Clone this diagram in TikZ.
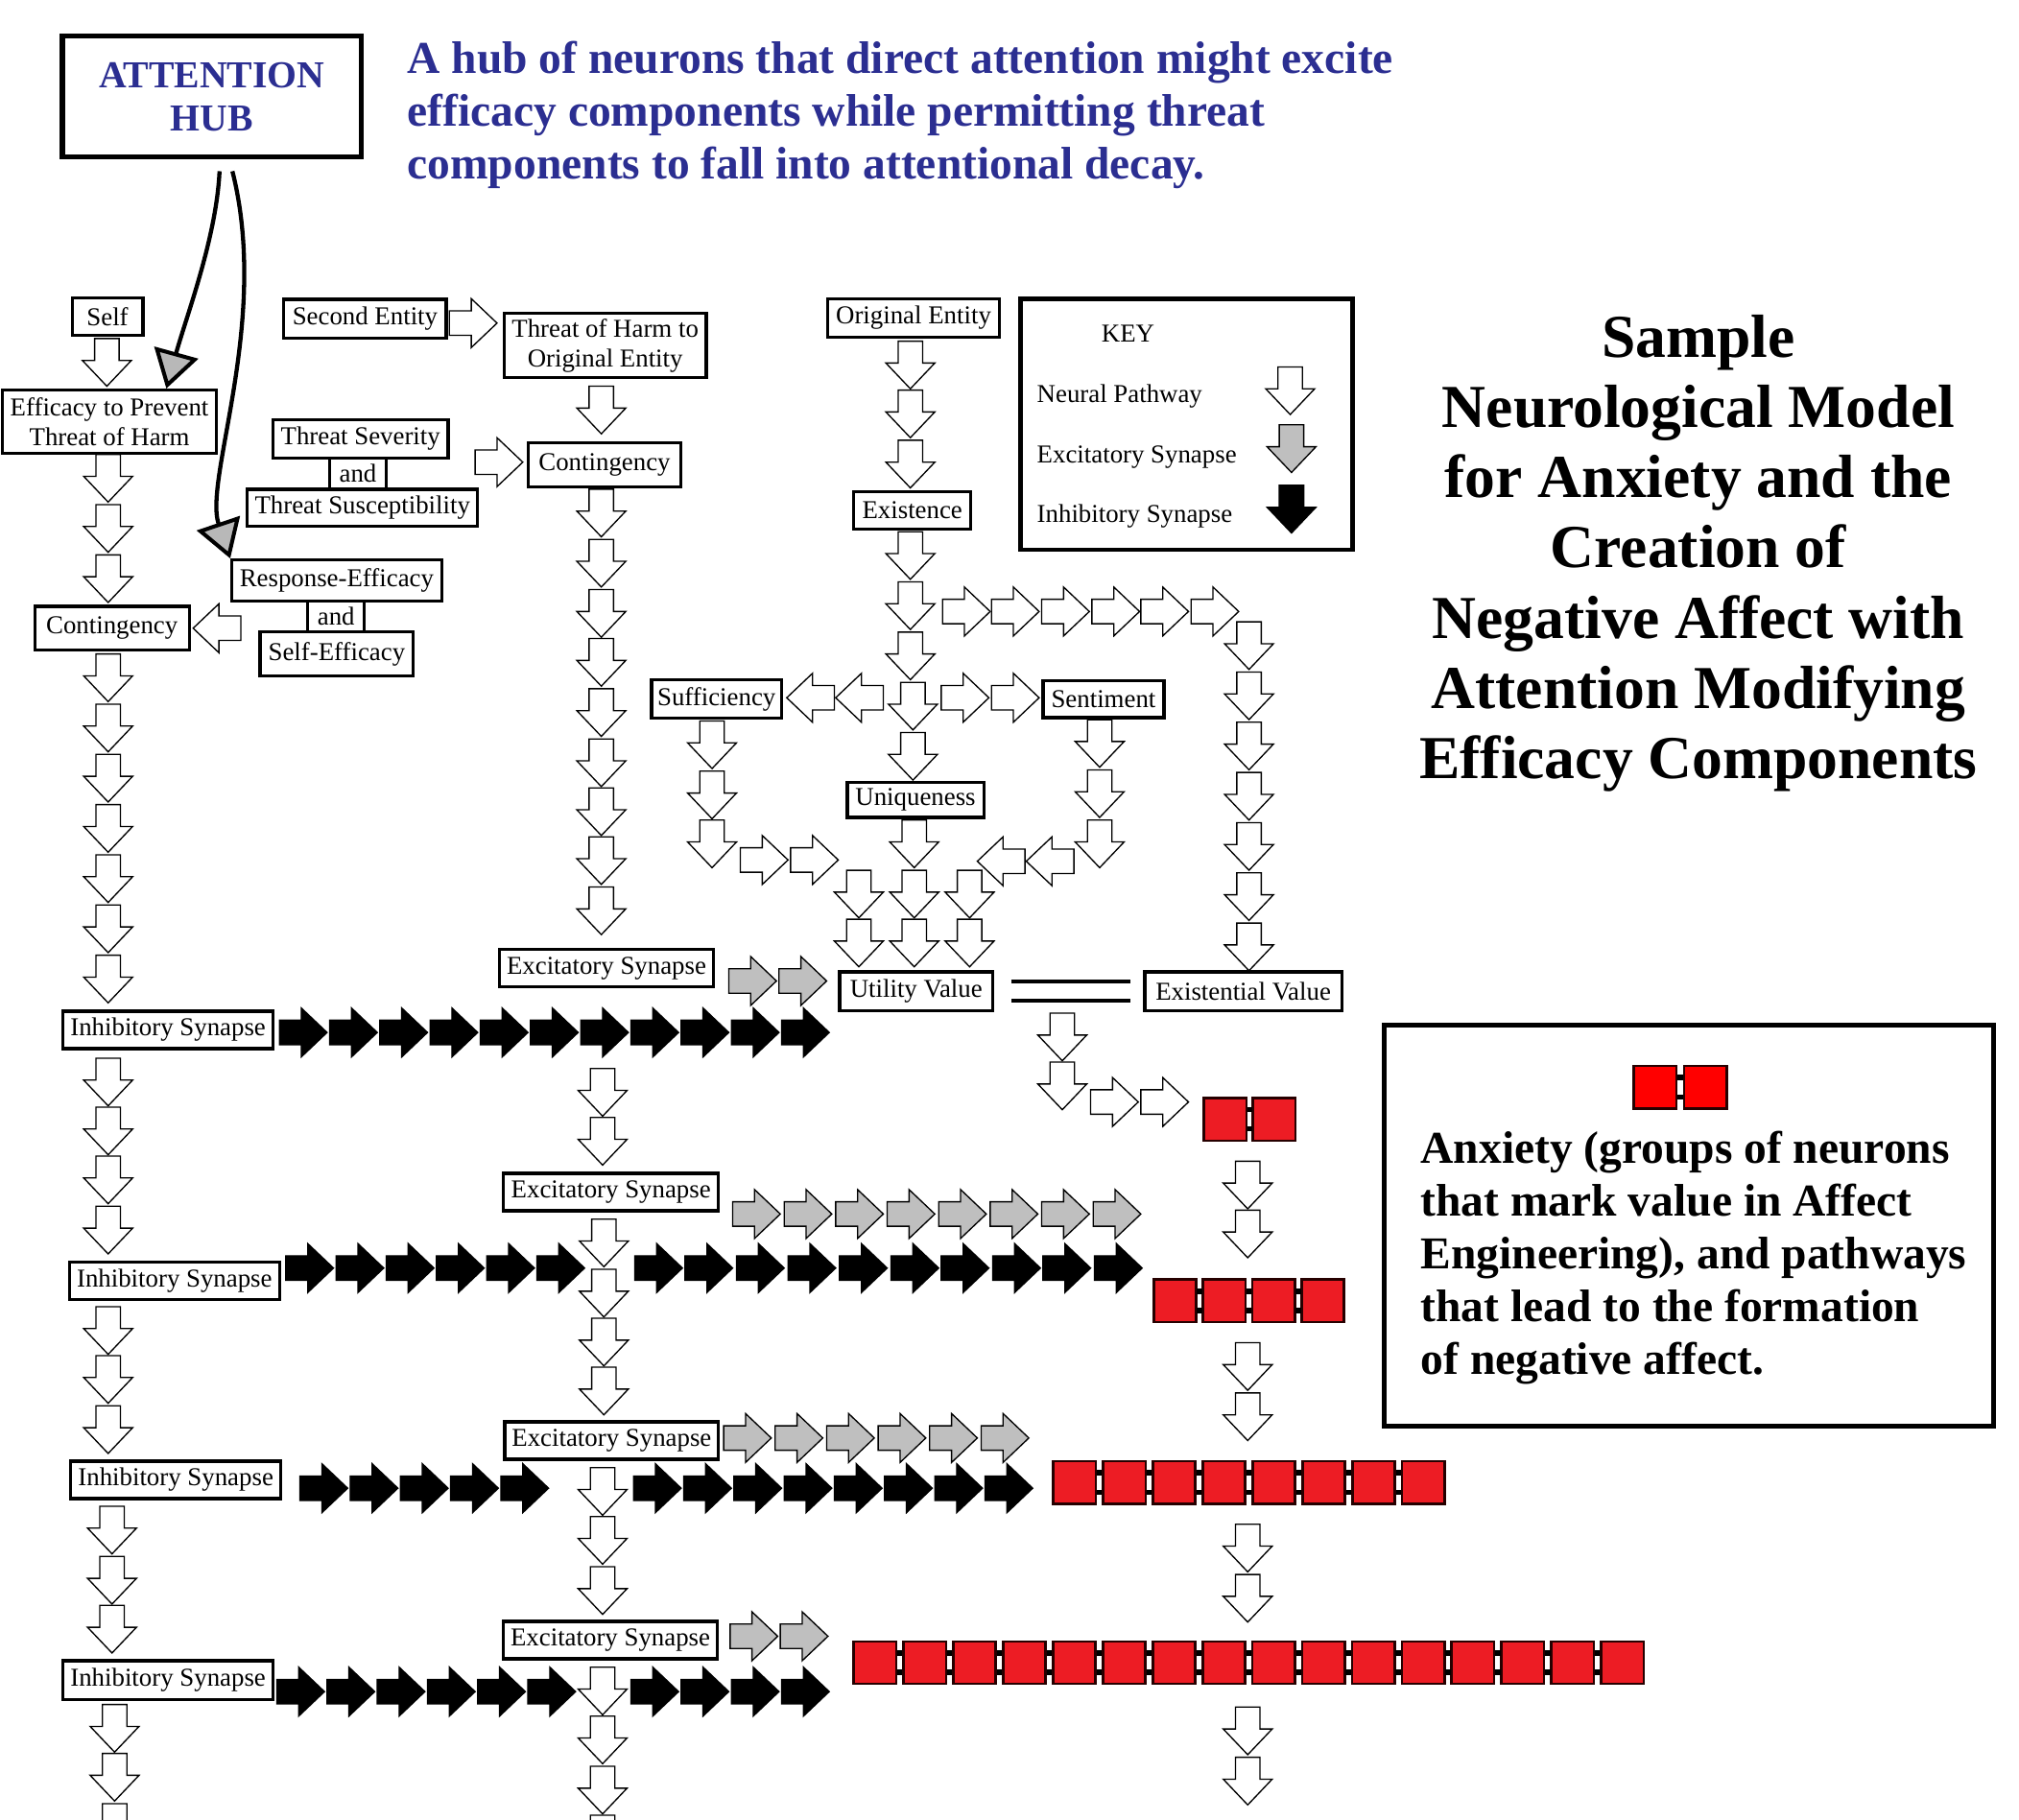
\documentclass[tikz,border=0pt]{standalone}
\usepackage{fontspec}
\setmainfont{Liberation Serif}
\usetikzlibrary{arrows.meta}
\definecolor{hubblue}{RGB}{43,46,145}
\definecolor{anxred}{RGB}{237,28,36}
\newcommand\lblfont{\fontsize{10pt}{11.5pt}\selectfont}
\newcommand\hubfont{\bfseries\fontsize{14.8pt}{16.75pt}\selectfont}
\newcommand\notefont{\bfseries\fontsize{17.7pt}{20.5pt}\selectfont}
\newcommand\bigheadfont{\bfseries\fontsize{23.7pt}{27.3pt}\selectfont}
% one row of anxiety clusters: x, top, count, pitch, colour
\newcommand\anxrow[5]{%
  \foreach \i in {1,...,#3}{%
    \draw[anx, fill=#5] ({#1+(\i-1)*#4},{-#2}) rectangle ++(33,-33);}
  \foreach \i in {2,...,#3}{%
    \fill ({#1+(\i-1)*#4-(#4-33)/2-2},{-#2-7}) rectangle ++(4,-4);
    \fill ({#1+(\i-1)*#4-(#4-33)/2-2},{-#2-22}) rectangle ++(4,-4);}}

\begin{document}
\begin{tikzpicture}[%
    x=0.5pt, y=0.5pt,          % one unit is one pixel of the layout grid
    >={Triangle[length=14.5pt, width=17.5pt, fill=black!28, line width=1.5pt]},
    ]
\useasboundingbox (0,0) rectangle (1568,-1413);
% -------------------------------------------------
% Box and arrow styles
\tikzset{
  base/.style={draw, fill=white, align=center, inner sep=1pt},
  lbl/.style={base, line width=1.2pt, minimum height=14.5pt, font=\lblfont},
  frame/.style={draw, line width=1.8pt},
  keytxt/.style={font=\lblfont, anchor=west, inner sep=0pt},
  % block arrows: white pathway, grey excitatory, black inhibitory
  neural/.style={draw, fill=white, line width=0.5pt},
  excite/.style={draw, fill=black!25, line width=0.5pt},
  inhib/.style={draw, fill=black, line width=0.5pt},
  pathway/.pic={\path[#1] (-9.5,0) -- (-9.5,-17) -- (-19,-17) -- (0,-37)
                -- (19,-17) -- (9.5,-17) -- (9.5,0) -- cycle;},
  hubline/.style={->, line width=1.6pt},
  equal/.style={line width=1.5pt, double, double distance=6pt},
  anx/.style={draw=black!85!red, line width=1pt},
}
% -------------------------------------------------
% Headings
\node[base, line width=2pt, minimum width=116pt, minimum height=47pt,
      font=\hubfont, text=hubblue] (hub) at (164.5,-75) {ATTENTION\\HUB};
\node[anchor=north west, inner sep=0pt, align=left, font=\notefont,
      text=hubblue] (note) at (316,-32)
  {A hub of neurons that direct attention might excite\\efficacy components while permitting threat\\components to fall into attentional decay.};
\node[anchor=north, inner sep=0pt, align=center, font=\bigheadfont]
  (title) at (1319,-244)
  {Sample\\Neurological Model\\for Anxiety and the\\Creation of\\Negative Affect with\\Attention Modifying\\Efficacy Components};
% -------------------------------------------------
% Labelled boxes
\node[lbl, minimum width=27.5pt] (self) at (83.5,-246) {Self};
\node[lbl, minimum width=63pt, minimum height=15pt] (second) at (283.5,-247.5) {Second Entity};
\node[lbl, minimum width=78.5pt, minimum height=25pt] (harm) at (470,-268.5) {Threat of Harm to\\Original Entity};
\node[lbl, minimum width=66.5pt, minimum height=15pt] (orig) at (709.5,-247) {Original Entity};
\node[lbl, minimum width=83pt, minimum height=24.5pt] (eff) at (85,-327.5) {Efficacy to Prevent\\Threat of Harm};
\node[lbl, minimum width=68pt, minimum height=15pt] (sev) at (280,-341) {Threat Severity};
\node[lbl, minimum width=22pt, minimum height=12pt] (and1) at (278,-368) {and};
\node[lbl, minimum width=89.5pt] (susc) at (281.5,-394.5) {Threat Susceptibility};
\node[lbl, minimum width=59.5pt, minimum height=17pt] (cont2) at (469.5,-361) {Contingency};
\node[lbl, minimum width=45.5pt] (exist) at (708.5,-396.5) {Existence};
\node[lbl, minimum width=81.5pt, minimum height=16pt] (resp) at (261.5,-451) {Response-Efficacy};
\node[lbl, minimum width=22pt, minimum height=12pt] (and2) at (261,-479) {and};
\node[lbl, minimum width=59.5pt, minimum height=17pt] (selfeff) at (261.5,-508) {Self-Efficacy};
\node[lbl, minimum width=60pt, minimum height=17pt] (cont1) at (87,-488) {Contingency};
\node[lbl, minimum width=50.5pt, minimum height=15pt] (suff) at (556.5,-543) {Sufficiency};
\node[lbl, minimum width=47pt] (sent) at (857,-543) {Sentiment};
\node[lbl, minimum width=53pt, minimum height=13.5pt] (uniq) at (711,-621.5) {Uniqueness};
\node[lbl, minimum width=83pt] (exc1) at (471,-752) {Excitatory Synapse};
\node[lbl, minimum width=59.5pt, minimum height=15pt] (util) at (711.5,-770) {Utility Value};
\node[lbl, minimum width=76.5pt, minimum height=15pt] (existval) at (965.5,-770) {Existential Value};
\node[lbl, minimum width=81.5pt] (inh1) at (130.5,-800) {Inhibitory Synapse};
\node[lbl, minimum width=83.5pt] (exc2) at (474.5,-926) {Excitatory Synapse};
\node[lbl, minimum width=81.5pt] (inh2) at (135.5,-995) {Inhibitory Synapse};
\node[lbl, minimum width=83pt] (exc3) at (475,-1119) {Excitatory Synapse};
\node[lbl, minimum width=81.5pt] (inh3) at (136.5,-1149.5) {Inhibitory Synapse};
\node[lbl, minimum width=83pt] (exc4) at (474,-1274) {Excitatory Synapse};
\node[lbl, minimum width=81.5pt, minimum height=15pt] (inh4) at (130.5,-1305) {Inhibitory Synapse};
% -------------------------------------------------
% Attention hub reaches the efficacy components
\draw[hubline] ([xshift=3pt,yshift=-4.5pt]hub.south)
  .. controls (168,-185) and (144.7,-245.7) .. ([xshift=-20pt]eff.north east);
\draw[hubline] ([xshift=8pt,yshift=-4.5pt]hub.south)
  .. controls (210,-250) and (158,-372) .. (resp.north west);
\draw[equal, shorten <=6.5pt, shorten >=5pt] (util) -- (existval);
% -------------------------------------------------
% Left column: efficacy path
\pic at (83,-263) {pathway=neural};
\foreach \y in {353,392,431} \pic at (84,-\y) {pathway=neural};
\foreach \y in {508,547,...,742} \pic at (84,-\y) {pathway=neural};
\foreach \y in {822,860,898,937} \pic at (84,-\y) {pathway=neural};
\foreach \y in {1015,1053,1092} \pic at (84,-\y) {pathway=neural};
\foreach \y in {1170,1209,1247} \pic at (87,-\y) {pathway=neural};
\foreach \y in {1324,1362,1401} \pic at (89,-\y) {pathway=neural};
\pic[rotate=-90] at (187,-488) {pathway=neural};
% Middle column: threat path
\pic[rotate=90] at (349,-251) {pathway=neural};
\pic[rotate=90] at (369,-359) {pathway=neural};
\pic at (467,-300) {pathway=neural};
\foreach \y in {380,419,458,496,535,574,612,650,689} \pic at (467,-\y) {pathway=neural};
\foreach \y in {830,868} \pic at (468,-\y) {pathway=neural};
\foreach \y in {947,986,1024,1062} \pic at (469,-\y) {pathway=neural};
\foreach \y in {1140,1178,1217} \pic at (468,-\y) {pathway=neural};
\foreach \y in {1295,1333,1372,1410} \pic at (468,-\y) {pathway=neural};
% Value branch
\foreach \y in {265,303,342,413,452,491} \pic at (707,-\y) {pathway=neural};
\foreach \y in {530,569} \pic at (709,-\y) {pathway=neural};
\foreach \x in {648,686} \pic[rotate=-90] at (\x,-542) {pathway=neural};
\foreach \x in {731,770} \pic[rotate=90] at (\x,-542) {pathway=neural};
\foreach \x in {732,770,809,848,886,925} \pic[rotate=90] at (\x,-475) {pathway=neural};
\foreach \y in {483,522,...,717} \pic at (970,-\y) {pathway=neural};
\foreach \y in {560,599,637} \pic at (553,-\y) {pathway=neural};
\foreach \x in {575,614} \pic[rotate=90] at (\x,-668) {pathway=neural};
\foreach \y in {559,598,637} \pic at (854,-\y) {pathway=neural};
\foreach \x in {796,834} \pic[rotate=-90] at (\x,-669) {pathway=neural};
\pic at (710,-637) {pathway=neural};
\foreach \x in {667,710,753} \foreach \y in {676,714} \pic at (\x,-\y) {pathway=neural};
% Excitatory synapses
\foreach \x in {566,605} \pic[rotate=90] at (\x,-762) {pathway=excite};
\foreach \x in {569,609,...,849} \pic[rotate=90] at (\x,-943) {pathway=excite};
\foreach \x in {562,602,...,762} \pic[rotate=90] at (\x,-1117) {pathway=excite};
\foreach \x in {567,606} \pic[rotate=90] at (\x,-1271) {pathway=excite};
% Inhibitory synapses
\foreach \x in {217,256,...,607} \pic[rotate=90] at (\x,-802) {pathway=inhib};
\foreach \x in {222,261,...,417,493,532,572,612,652,692,731,771,810,850}
  \pic[rotate=90] at (\x,-985) {pathway=inhib};
\foreach \x in {233,272,...,389,492,531,...,765} \pic[rotate=90] at (\x,-1156) {pathway=inhib};
\foreach \x in {215,254,...,410,490,529,568,607} \pic[rotate=90] at (\x,-1314) {pathway=inhib};
% Anxiety build-up
\foreach \y in {787,825} \pic at (825,-\y) {pathway=neural};
\foreach \x in {847,886} \pic[rotate=90] at (\x,-856) {pathway=neural};
\foreach \y in {902,940,1043,1082,1184,1223,1326,1365} \pic at (969,-\y) {pathway=neural};
\anxrow{935}{853}{2}{38}{anxred}
\anxrow{896}{994}{4}{38.3}{anxred}
\anxrow{818}{1135}{8}{38.7}{anxred}
\anxrow{663}{1275}{16}{38.7}{anxred}
% -------------------------------------------------
% Key
\node[frame, minimum width=129pt, minimum height=97.5pt] (keybox) at (921.5,-329.5) {};
\node[font=\lblfont, inner sep=0pt] (keyttl) at (876,-259) {KEY};
\node[keytxt] (kneural) at (805,-308) {Neural Pathway};
\node[keytxt] (kexcite) at (805,-355) {Excitatory Synapse};
\node[keytxt] (kinhib) at (805,-401) {Inhibitory Synapse};
\pic at (1002,-285) {pathway=neural};
\pic at (1003,-330) {pathway=excite};
\pic at (1003,-377) {pathway=inhib};
% Anxiety legend
\node[frame, minimum width=236.5pt, minimum height=156pt] (anxbox) at (1311.5,-952) {};
\anxrow{1269}{828}{2}{39}{red}
\node[anchor=north west, inner sep=0pt, align=left, font=\notefont] (anxtxt) at (1103,-878)
  {Anxiety (groups of neurons\\that mark value in Affect\\Engineering), and pathways\\that lead to the formation\\of negative affect.};
\end{tikzpicture}
\end{document}
